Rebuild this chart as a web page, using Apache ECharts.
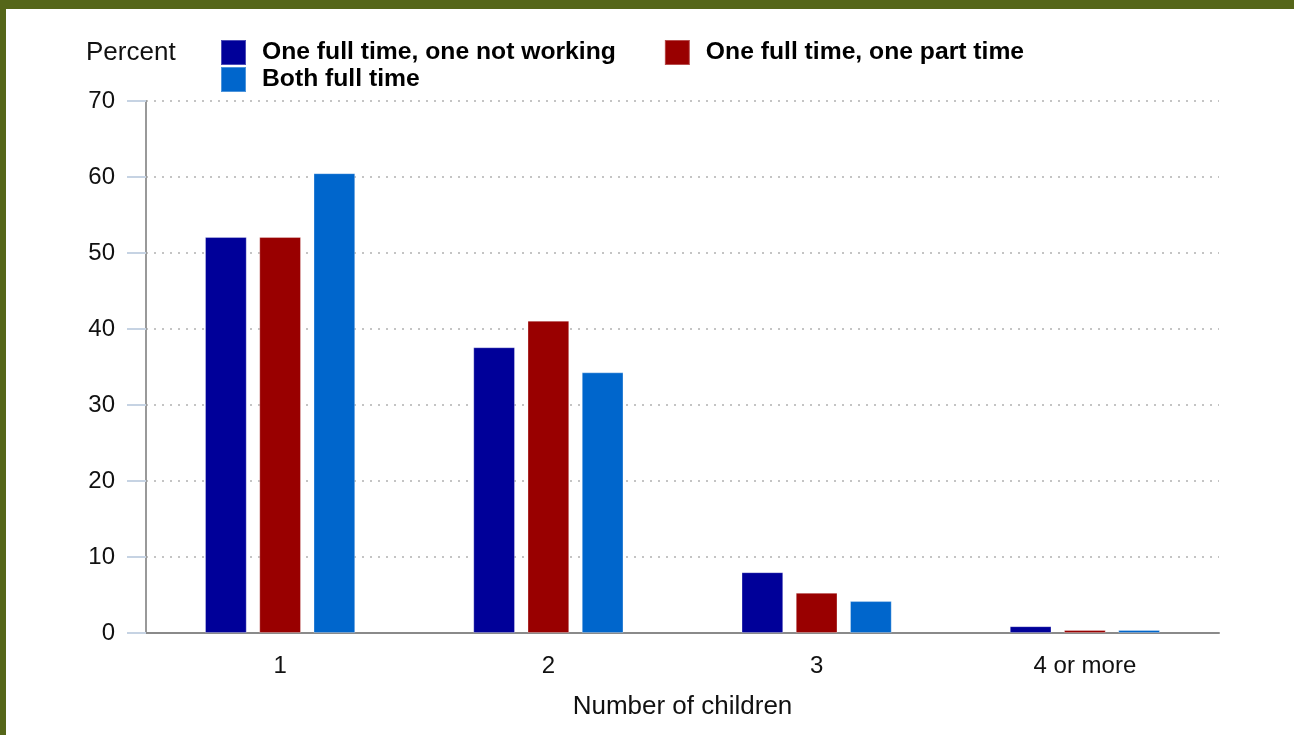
<!DOCTYPE html>
<html>
<head>
<meta charset="utf-8">
<script src="https://cdn.jsdelivr.net/npm/echarts@6/dist/echarts.min.js"></script>
<style>
  html, body { margin: 0; padding: 0; width: 1294px; height: 735px; background: #556619; overflow: hidden; }
  #chart { position: absolute; left: 6px; top: 9px; width: 1288px; height: 726px; background: #ffffff; }
</style>
</head>
<body>
<div id="chart"></div>
<script>
const categories = ['1', '2', '3', '4 or more'];
const seriesNames = ['One full time, one not working', 'One full time, one part time', 'Both full time'];
const notWorking = [52.1, 37.6, 8.0, 0.9];
const partTime = [52.1, 41.1, 5.3, 0.4];
const bothFull = [60.5, 34.3, 4.2, 0.4];
const yTicks = [0, 10, 20, 30, 40, 50, 60, 70];
const colors = ['#000099', '#990000', '#0066CC'];

const FONT = '"Liberation Sans", Arial, Helvetica, sans-serif';
const chart = echarts.init(document.getElementById('chart'));

const legendBase = {
  orient: 'horizontal',
  itemWidth: 25,
  itemHeight: 25,
  padding: 0,
  icon: 'rect',
  selectedMode: false,
  textStyle: { fontFamily: FONT, fontSize: 24.7, fontWeight: 'bold', color: '#000', padding: [6, 0, 0, 11] }
};

function mkSeries(name, data, color) {
  return {
    name: name,
    type: 'bar',
    data: data,
    barGap: '30%',
    barCategoryGap: '44%',
    itemStyle: { color: color, borderColor: 'rgba(255,255,255,0.3)', borderWidth: 1 },
    emphasis: { disabled: true }
  };
}

chart.setOption({
  animation: false,
  backgroundColor: '#ffffff',
  title: {
    text: 'Percent',
    left: 80,
    top: 31,
    padding: 0,
    textStyle: { fontFamily: FONT, fontSize: 26, fontWeight: 'normal', color: '#111' }
  },
  legend: [
    Object.assign({}, legendBase, { left: 214, top: 30, itemGap: 48, data: [seriesNames[0], seriesNames[1]] }),
    Object.assign({}, legendBase, { left: 214, top: 57, data: [seriesNames[2]] })
  ],
  grid: { left: 140, right: 75, top: 92, bottom: 102, outerBoundsMode: 'none', containLabel: false },
  xAxis: {
    type: 'category',
    data: categories,
    axisLine: { show: true, lineStyle: { color: '#8a8a8a', width: 2 } },
    axisTick: { show: false },
    axisLabel: { fontFamily: FONT, fontSize: 24, color: '#111', margin: 21 },
    name: 'Number of children',
    nameLocation: 'middle',
    nameGap: 61,
    nameTextStyle: { fontFamily: FONT, fontSize: 26, color: '#111' },
    splitLine: { show: false }
  },
  yAxis: {
    type: 'value',
    min: yTicks[0],
    max: yTicks[yTicks.length - 1],
    interval: 10,
    axisLine: { show: true, lineStyle: { color: '#999', width: 2 } },
    axisTick: { show: true, length: 19, lineStyle: { color: '#c6d3e3', width: 2 } },
    axisLabel: { fontFamily: FONT, fontSize: 24, color: '#111', margin: 31, padding: [5, 0, 0, 0] },
    splitLine: { show: true, lineStyle: { color: '#c4c4c4', width: 2, type: [2, 6] } }
  },
  series: [
    mkSeries(seriesNames[0], notWorking, colors[0]),
    mkSeries(seriesNames[1], partTime, colors[1]),
    mkSeries(seriesNames[2], bothFull, colors[2])
  ]
});
</script>
</body>
</html>
